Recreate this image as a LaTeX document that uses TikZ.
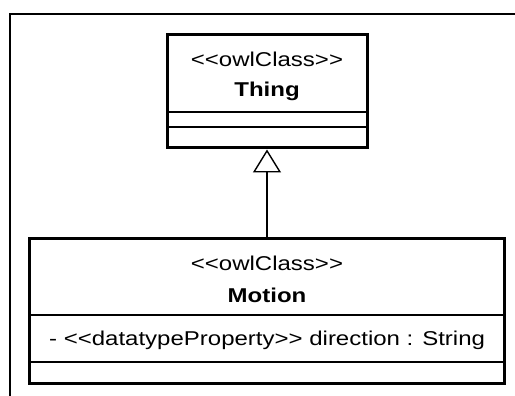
\documentclass[tikz,border=0pt]{standalone}
\usepackage{fontspec}
\setmainfont[FakeStretch=1.2]{Liberation Sans}
\usetikzlibrary{arrows.meta}
\tikzset{
	classbox/.style={draw, line width=3pt, inner sep=0pt},
	sepline/.style={line width=1.2pt},
	umltext/.style={inner sep=0pt, font=\fontsize{20}{24}\selectfont},
	umlname/.style={umltext, font=\fontsize{20}{24}\selectfont\bfseries},
	inherit/.style={line width=1.4pt, -{Triangle[open, width=28pt, length=23pt, line width=1.4pt]}}
}
\begin{document}
\begin{tikzpicture}[x=1pt, y=-1pt]
	\useasboundingbox (0,0) rectangle (515,396);
	% frame
	\draw[line width=2pt] (10,396) -- (10,14) -- (515,14);
	
	% class Thing
	\node[classbox, minimum width=200pt, minimum height=113pt] (thing) at (267,91.5) {};
	\node[umltext, anchor=base] (thingst) at (267,67) {{<}{<}owlClass{>}{>}};
	\node[umlname, anchor=base] (thingname) at (267,97) {Thing};
	\draw[sepline] (167,112) -- (367,112);
	\draw[sepline] (167,127) -- (367,127);
	
	% class Motion
	\node[classbox, minimum width=475pt, minimum height=145pt] (motion) at (266.5,311) {};
	\node[umltext, anchor=base] (motionst) at (267,270) {{<}{<}owlClass{>}{>}};
	\node[umlname, anchor=base] (motionname) at (267,302) {Motion};
	\draw[sepline] (29,315) -- (504,315);
	\node[umltext, anchor=base west] (direction) at (49,345) {- {<}{<}datatypeProperty{>}{>} direction : String};
	\draw[sepline] (29,362) -- (504,362);
	
	% generalisation
	\draw[inherit] (motion.north -| thing.south) -- (thing.south);
\end{tikzpicture}
\end{document}
